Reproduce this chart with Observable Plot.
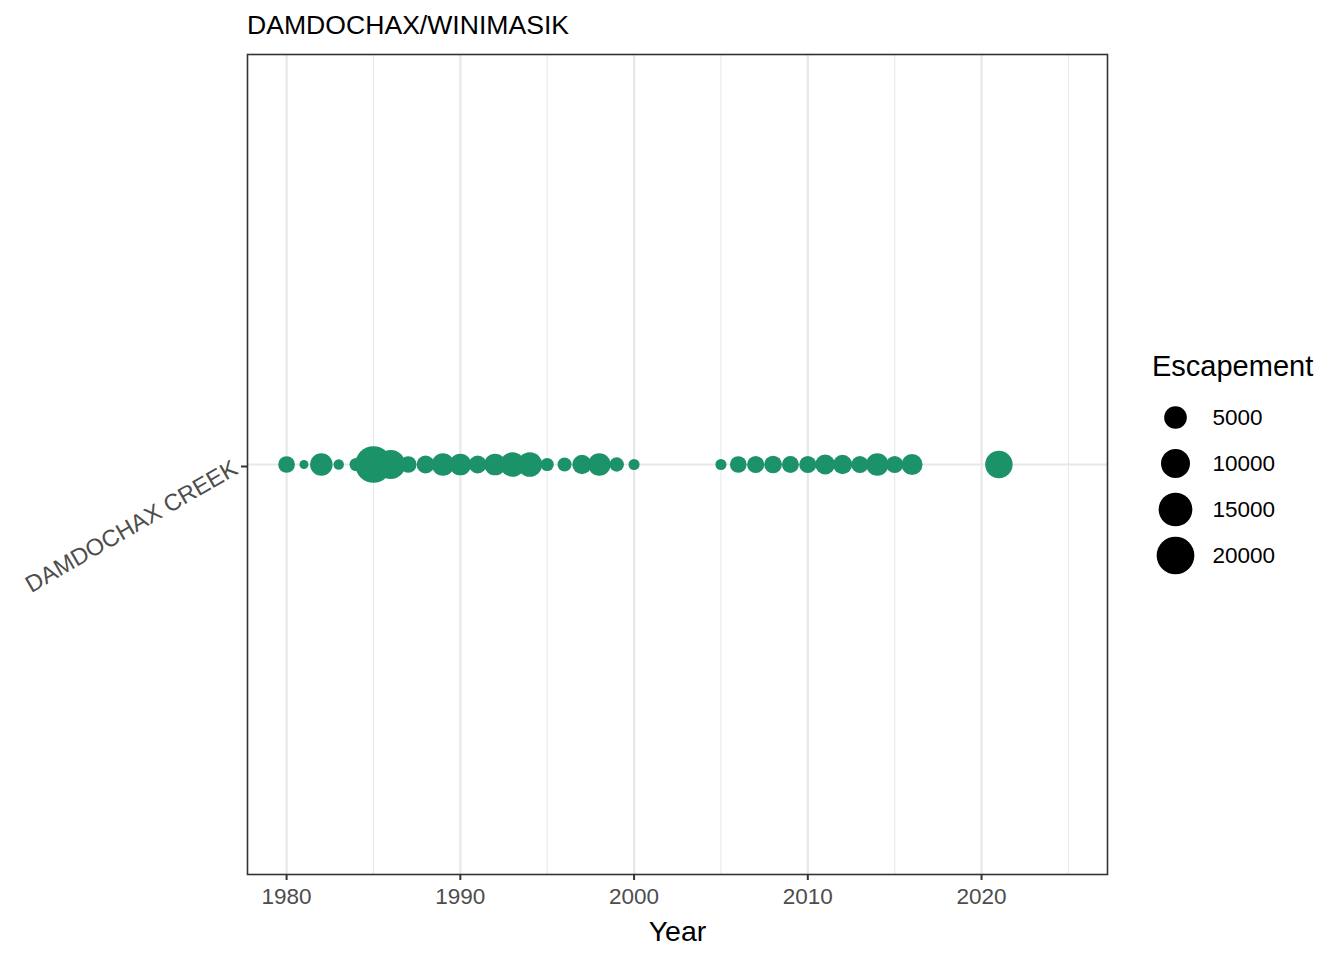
<!DOCTYPE html>
<html>
<head>
<meta charset="utf-8">
<script src="https://cdn.jsdelivr.net/npm/d3@7"></script>
<script src="https://cdn.jsdelivr.net/npm/@observablehq/plot@0.6"></script>
<style>
  html, body { margin: 0; padding: 0; background: white; }
  #wrap { position: relative; width: 1344px; height: 960px; overflow: hidden; font-family: "Liberation Sans", Arial, Helvetica, sans-serif; }
  #chart { position: absolute; left: 0; top: 0; }
  #title { position: absolute; left: 247px; top: 12px; font-size: 26.6px; line-height: 26.6px; color: #000; white-space: nowrap; }
  #legtitle { position: absolute; left: 1152px; top: 352px; font-size: 29px; line-height: 29px; color: #000; white-space: nowrap; }
  #legend { position: absolute; left: 1152px; top: 394px; }
</style>
</head>
<body>
<div id="wrap">
  <div id="chart"></div>
  <div id="title">DAMDOCHAX/WINIMASIK</div>
  <div id="legtitle">Escapement</div>
  <div id="legend"></div>
</div>
<script>
// ---- data ----
const site = "DAMDOCHAX CREEK";
const years = [1980, 1981, 1982, 1983, 1984, 1985, 1986, 1987, 1988, 1989,
               1990, 1991, 1992, 1993, 1994, 1995, 1996, 1997, 1998, 1999, 2000,
               2005, 2006, 2007, 2008, 2009, 2010, 2011, 2012, 2013, 2014, 2015, 2016,
               2021];
const escapement = [2000, 600, 4900, 650, 1000, 18500, 10000, 2000, 2500, 4900,
                    4400, 2500, 4400, 6400, 6400, 1000, 1200, 3100, 5000, 1300, 700,
                    700, 2000, 2200, 2400, 2100, 2200, 3400, 3100, 2200, 4900, 2200, 4000,
                    8600];
const majorTicks = [1980, 1990, 2000, 2010, 2020];
const minorTicks = [1985, 1995, 2005, 2015, 2025];
const legendBreaks = [5000, 10000, 15000, 20000];

const rows = years.map((y, i) => ({year: y, site, value: escapement[i]}));

// ---- styling / scales ----
const font = "Liberation Sans, Arial, Helvetica, sans-serif";
const dotColor = "#1c9269";
const gridColor = "#E8E8E8";
const vmin = d3.min(escapement);
const rOptions = {
  type: "linear",
  transform: v => Math.sqrt(Math.max(0, v - vmin)),
  domain: [0, Math.sqrt(20000 - vmin)],
  range: [4.5, 18.85],
  clamp: false
};

const chart = Plot.plot({
  width: 1344,
  height: 960,
  marginLeft: 247,
  marginRight: 237,
  marginTop: 54,
  marginBottom: 86,
  style: {fontFamily: font, background: "white", overflow: "visible"},
  x: {domain: [1977.75, 2027.25], nice: false},
  y: {type: "point", domain: [site]},
  r: rOptions,
  marks: [
    Plot.gridX({ticks: minorTicks, stroke: gridColor, strokeOpacity: 1, strokeWidth: 1.1}),
    Plot.gridX({ticks: majorTicks, stroke: gridColor, strokeOpacity: 1, strokeWidth: 2.2}),
    Plot.gridY({ticks: [site], stroke: gridColor, strokeOpacity: 1, strokeWidth: 2.2}),
    Plot.dot(rows, {x: "year", y: "site", r: "value", fill: dotColor, stroke: "none", sort: null}),
    Plot.frame({stroke: "#333333", strokeWidth: 1.6}),
    Plot.axisX({ticks: majorTicks, tickFormat: d => String(d), tickSize: 6, tickPadding: 8,
                fontSize: 22.5, fill: "#4D4D4D", stroke: "#333333", strokeWidth: 2, label: null}),
    Plot.axisY({ticks: [site], tickSize: 6, tickPadding: 6, tickRotate: -30, dy: 2,
                fontSize: 23.5, fill: "#4D4D4D", stroke: "#333333", strokeWidth: 2, label: null}),
    Plot.text(["Year"], {frameAnchor: "bottom", lineAnchor: "bottom", dy: 66, fontSize: 28.5, fill: "#000"})
  ]
});
document.getElementById("chart").appendChild(chart);

const legend = Plot.plot({
  width: 190,
  height: 184,
  marginLeft: 0, marginRight: 0, marginTop: 0, marginBottom: 0,
  style: {fontFamily: font, background: "transparent", overflow: "visible"},
  y: {type: "point", domain: legendBreaks.map(String), padding: 0.5, axis: null},
  r: rOptions,
  marks: [
    Plot.dot(legendBreaks, {y: d => String(d), r: d => d, frameAnchor: "left", dx: 23, fill: "#000", stroke: "none"}),
    Plot.text(legendBreaks, {y: d => String(d), text: d => String(d), frameAnchor: "left", dx: 60,
                             textAnchor: "start", fontSize: 22.5, fill: "#000"})
  ]
});
document.getElementById("legend").appendChild(legend);
</script>
</body>
</html>
